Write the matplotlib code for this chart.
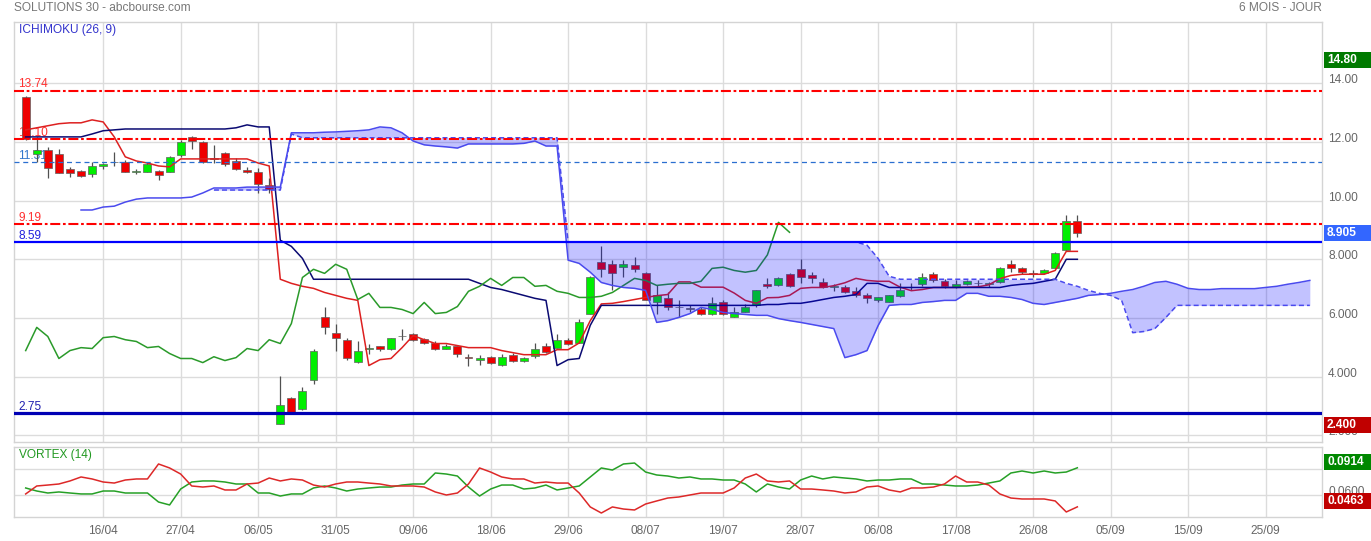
import numpy as np
import matplotlib
matplotlib.use("Agg")
import matplotlib.pyplot as plt
from matplotlib.patches import Rectangle

plt.rcParams['font.family'] = ['Liberation Sans', 'DejaVu Sans']

# ------------------------------------------------------------------ data
title_left = "SOLUTIONS 30 - abcbourse.com"
title_right = "6 MOIS - JOUR"
date_labels = ['16/04', '27/04', '06/05', '31/05', '09/06', '18/06', '29/06', '08/07',
               '19/07', '28/07', '06/08', '17/08', '26/08', '05/09', '15/09', '25/09']

open_ = [13.54, 11.59, 11.73, 11.59, 11.08, 11.01, 10.91, 11.18, 11.30, 11.32,
         10.97, 10.97, 11.01, 10.97, 11.56, 12.17, 12.00, 11.45, 11.62, 11.35,
         11.04, 10.97, 10.53, 2.40, 3.28, 2.91, 3.90, 6.02, 5.50, 5.26,
         4.51, 4.96, 5.06, 4.96, 5.37, 5.44, 5.30, 5.16, 4.96, 5.03,
         4.68, 4.58, 4.68, 4.41, 4.75, 4.55, 4.72, 5.03, 4.99, 5.26,
         5.16, 6.15, 7.90, 7.83, 7.73, 7.79, 7.52, 6.53, 6.67, 6.36,
         6.32, 6.29, 6.12, 6.56, 6.02, 6.19, 6.43, 7.15, 7.11, 7.49,
         7.66, 7.45, 7.21, 7.04, 7.04, 6.91, 6.77, 6.63, 6.56, 6.74,
         7.04, 7.15, 7.49, 7.25, 7.04, 7.15, 7.18, 7.15, 7.21, 7.83,
         7.69, 7.52, 7.52, 7.69, 8.31, 9.30]
high = [13.57, 12.17, 11.83, 11.76, 11.15, 11.04, 11.32, 11.28, 11.66, 11.38,
        11.08, 11.32, 11.04, 11.52, 12.07, 12.21, 12.03, 11.90, 11.66, 11.45,
        11.15, 11.11, 10.77, 4.03, 3.32, 3.66, 4.96, 6.39, 5.81, 5.33,
        5.20, 5.13, 5.06, 5.33, 5.64, 5.50, 5.33, 5.23, 5.13, 5.06,
        4.79, 4.75, 4.72, 4.79, 4.82, 4.68, 5.16, 5.16, 5.47, 5.33,
        5.98, 7.42, 8.44, 7.97, 7.97, 8.07, 7.56, 7.11, 6.87, 6.60,
        6.43, 6.36, 6.70, 6.60, 6.36, 6.46, 6.97, 7.35, 7.38, 7.52,
        8.00, 7.56, 7.35, 7.15, 7.11, 7.04, 6.84, 6.70, 6.80, 7.18,
        7.18, 7.52, 7.56, 7.32, 7.28, 7.28, 7.28, 7.21, 7.73, 7.97,
        7.73, 7.62, 7.66, 8.24, 9.50, 9.50]
low = [12.07, 11.32, 10.77, 10.94, 10.80, 10.80, 10.80, 11.08, 11.18, 10.97,
       10.91, 10.97, 10.70, 10.97, 11.49, 11.76, 11.28, 11.28, 11.18, 11.04,
       10.94, 10.26, 10.26, 2.40, 2.77, 2.87, 3.76, 5.47, 4.89, 4.58,
       4.48, 4.79, 4.89, 4.92, 5.26, 5.23, 5.13, 4.92, 4.96, 4.68,
       4.38, 4.41, 4.44, 4.38, 4.51, 4.51, 4.65, 4.82, 4.99, 5.09,
       5.16, 6.15, 7.38, 6.94, 7.38, 7.56, 6.60, 6.15, 6.26, 6.02,
       6.19, 6.09, 6.09, 6.09, 6.02, 6.19, 6.39, 7.01, 7.08, 7.04,
       7.18, 7.18, 7.01, 6.91, 6.84, 6.70, 6.50, 6.53, 6.56, 6.70,
       6.94, 7.08, 7.21, 7.01, 7.01, 7.11, 7.04, 7.04, 7.18, 7.56,
       7.49, 7.38, 7.49, 7.66, 8.27, 8.75]
close = [12.10, 11.73, 11.11, 10.94, 10.94, 10.84, 11.18, 11.25, 11.32, 10.97,
         11.01, 11.25, 10.87, 11.49, 12.00, 12.03, 11.32, 11.42, 11.25, 11.08,
         10.97, 10.56, 10.39, 3.04, 2.77, 3.52, 4.89, 5.68, 5.33, 4.62,
         4.89, 4.99, 4.96, 5.33, 5.37, 5.26, 5.16, 4.96, 5.03, 4.79,
         4.62, 4.62, 4.48, 4.68, 4.55, 4.65, 4.96, 4.85, 5.26, 5.13,
         5.85, 7.38, 7.66, 7.52, 7.83, 7.66, 6.63, 6.80, 6.36, 6.39,
         6.32, 6.15, 6.50, 6.15, 6.19, 6.39, 6.94, 7.08, 7.35, 7.08,
         7.38, 7.35, 7.04, 7.08, 6.87, 6.80, 6.67, 6.70, 6.77, 6.94,
         7.04, 7.38, 7.28, 7.08, 7.15, 7.25, 7.18, 7.18, 7.69, 7.69,
         7.56, 7.49, 7.62, 8.21, 9.30, 8.905]

tenkan = [12.41, 12.48, 12.55, 12.62, 12.65, 12.65, 12.75, 12.68, 12.17, 11.49,
          11.35, 11.28, 11.18, 11.15, 11.42, 11.42, 11.42, 11.42, 11.42, 11.42,
          11.42, 11.28, 11.18, 7.32, 7.18, 7.08, 7.01, 6.87, 6.77, 6.67,
          6.60, 4.38, 4.58, 4.62, 4.99, 5.40, 5.26, 5.13, 5.13, 5.06,
          4.99, 4.99, 4.99, 4.89, 4.82, 4.75, 4.75, 4.75, 4.92, 4.92,
          5.15, 5.91, 6.48, 6.50, 6.56, 6.63, 6.70, 6.76, 6.80, 7.23,
          7.23, 7.05, 7.05, 7.05, 6.85, 6.60, 6.50, 6.69, 6.70, 6.77,
          7.01, 7.04, 7.04, 7.10, 7.20, 7.35, 7.28, 7.25, 7.25, 7.05,
          6.93, 6.97, 7.04, 7.04, 7.04, 7.05, 7.06, 7.13, 7.34, 7.45,
          7.49, 7.49, 7.49, 7.62, 8.27, 8.27]
kijun = [12.17, 12.17, 12.17, 12.17, 12.17, 12.17, 12.27, 12.38, 12.41, 12.44,
         12.44, 12.44, 12.44, 12.44, 12.44, 12.44, 12.44, 12.44, 12.44, 12.48,
         12.58, 12.51, 12.51, 8.65, 8.44, 8.03, 7.32, 7.32, 7.32, 7.32,
         7.32, 7.32, 7.32, 7.32, 7.32, 7.32, 7.32, 7.32, 7.32, 7.32,
         7.32, 7.18, 7.04, 6.97, 6.87, 6.77, 6.67, 6.60, 4.38, 4.58,
         4.62, 5.75, 6.43, 6.43, 6.43, 6.43, 6.43, 6.43, 6.43, 6.43,
         6.43, 6.43, 6.43, 6.43, 6.43, 6.43, 6.43, 6.46, 6.46, 6.50,
         6.50, 6.56, 6.63, 6.70, 6.74, 6.80, 7.18, 7.18, 7.04, 7.04,
         7.04, 7.04, 7.04, 7.04, 7.04, 7.04, 7.04, 7.04, 7.04, 7.11,
         7.15, 7.18, 7.25, 7.32, 8.00, 8.00]
# lagging span (chikou), drawn 26 sessions back
chikou = [4.89, 5.68, 5.37, 4.62, 4.89, 4.99, 4.96, 5.33, 5.37, 5.26,
          5.20, 4.99, 5.03, 4.79, 4.62, 4.62, 4.48, 4.68, 4.55, 4.65,
          4.96, 4.89, 5.26, 5.13, 5.81, 7.38, 7.66, 7.52, 7.83, 7.66,
          6.63, 6.84, 6.36, 6.36, 6.29, 6.15, 6.53, 6.15, 6.19, 6.39,
          6.91, 7.08, 7.35, 7.11, 7.38, 7.38, 7.08, 7.11, 6.91, 6.84,
          6.70, 6.70, 6.74, 6.87, 7.11, 7.35, 7.28, 7.11, 7.15, 7.18,
          7.18, 7.25, 7.69, 7.73, 7.62, 7.56, 7.62, 8.15, 9.26, 8.92]
# senkou span A : sessions 5 .. 116
senkou_a_start = 5
senkou_a = [9.68, 9.68, 9.78, 9.81, 9.95, 10.05, 10.09, 10.09, 10.09, 10.09,
            10.12, 10.26, 10.43, 10.43, 10.43, 10.46, 10.46, 10.46, 10.46, 12.31,
            12.31, 12.31, 12.33, 12.34, 12.36, 12.38, 12.41, 12.51, 12.48, 12.31,
            12.03, 11.90, 11.86, 11.83, 11.79, 11.93, 11.93, 11.93, 11.93, 11.93,
            11.95, 12.03, 11.86, 11.86, 7.97, 7.86, 7.56, 7.21, 7.11, 7.04,
            7.01, 6.94, 5.85, 5.91, 6.02, 6.15, 6.36, 6.29, 6.19, 6.15,
            6.12, 6.09, 6.09, 5.98, 5.91, 5.85, 5.78, 5.71, 5.64, 4.65,
            4.75, 4.89, 5.74, 6.43, 6.46, 6.46, 6.53, 6.56, 6.60, 6.60,
            6.84, 6.84, 6.74, 6.74, 6.70, 6.63, 6.50, 6.46, 6.53, 6.60,
            6.67, 6.77, 6.80, 6.84, 6.91, 6.97, 7.08, 7.21, 7.25, 7.15,
            7.01, 6.97, 6.97, 7.00, 7.00, 7.00, 7.00, 7.04, 7.08, 7.15,
            7.21, 7.28]
# senkou span B : sessions 17 .. 116
senkou_b_start = 17
senkou_b = [10.36, 10.36, 10.36, 10.36, 10.36, 10.36, 10.36, 12.27, 12.14, 12.14,
            12.14, 12.14, 12.14, 12.14, 12.14, 12.14, 12.14, 12.14, 12.14, 12.14,
            12.14, 12.14, 12.14, 12.14, 12.14, 12.14, 12.14, 12.14, 12.14, 12.14,
            12.14, 12.14, 8.59, 8.59, 8.59, 8.59, 8.59, 8.59, 8.59, 8.59,
            8.59, 8.59, 8.59, 8.59, 8.59, 8.59, 8.59, 8.59, 8.59, 8.59,
            8.59, 8.59, 8.59, 8.59, 8.59, 8.59, 8.59, 8.59, 8.59, 8.48,
            8.03, 7.42, 7.32, 7.32, 7.32, 7.32, 7.32, 7.32, 7.32, 7.32,
            7.32, 7.32, 7.32, 7.32, 7.32, 7.32, 7.32, 7.18, 7.08, 6.94,
            6.84, 6.77, 6.60, 5.50, 5.54, 5.64, 6.02, 6.43, 6.43, 6.43,
            6.43, 6.43, 6.43, 6.43, 6.43, 6.43, 6.43, 6.43, 6.43, 6.43]

levels_red = [13.74, 12.10, 9.19]
level_dashed_blue = 11.31
level_blue = 8.59
level_navy = 2.75
period_high = 14.80

vi_plus = [.0681, .0646, .0623, .0635, .0623, .0612, .0612, .0646, .0646, .0623,
           .0623, .0623, .0519, .0485, .0669, .0750, .0762, .0762, .0750, .0727,
           .0727, .0623, .0623, .0588, .0612, .0612, .0681, .0704, .0681, .0646,
           .0669, .0681, .0692, .0692, .0715, .0727, .0727, .0854, .0842, .0819,
           .0692, .0588, .0669, .0715, .0715, .0669, .0681, .0715, .0658, .0681,
           .0704, .0808, .0912, .0888, .0958, .0969, .0865, .0831, .0819, .0796,
           .0808, .0785, .0785, .0773, .0773, .0727, .0635, .0727, .0692, .0669,
           .0773, .0819, .0785, .0808, .0796, .0785, .0762, .0773, .0773, .0785,
           .0785, .0727, .0727, .0715, .0704, .0704, .0715, .0738, .0762, .0854,
           .0877, .0854, .0877, .0854, .0865, .0914]
vi_minus = [.0612, .0704, .0715, .0727, .0762, .0808, .0785, .0750, .0738, .0773,
            .0785, .0785, .0958, .0912, .0842, .0704, .0692, .0704, .0658, .0658,
            .0727, .0738, .0796, .0762, .0785, .0773, .0715, .0692, .0727, .0750,
            .0750, .0738, .0727, .0704, .0704, .0704, .0692, .0635, .0600, .0623,
            .0727, .0912, .0865, .0808, .0785, .0785, .0738, .0750, .0738, .0738,
            .0623, .0462, .0392, .0462, .0438, .0427, .0496, .0531, .0565, .0577,
            .0600, .0623, .0623, .0623, .0681, .0796, .0842, .0762, .0750, .0762,
            .0669, .0669, .0658, .0646, .0623, .0635, .0692, .0704, .0658, .0635,
            .0681, .0681, .0692, .0727, .0819, .0750, .0750, .0715, .0612, .0565,
            .0554, .0554, .0554, .0531, .0404, .0463]

# ------------------------------------------------------------------ figure
W, H = 1371, 541
fig = plt.figure(figsize=(W / 100, H / 100), dpi=100)
fig.patch.set_facecolor('white')


def box(l, t, r, b):
    return [l / W, 1 - b / H, (r - l) / W, (b - t) / H]


ax = fig.add_axes(box(14.5, 22, 1322, 442))
axv = fig.add_axes(box(14.5, 447, 1322, 517))

o = np.array(open_); h = np.array(high); l = np.array(low); c = np.array(close)
n = len(c)
idx = np.arange(n)
XLIM = (-1.01, 117.1)

GRID = '#dcdcdc'
SPINE = '#d4d4d4'
TXT = '#666666'

for a in (ax, axv):
    a.set_xlim(*XLIM)
    a.set_xticks(np.arange(7, 113, 7))
    a.grid(True, color=GRID, lw=1)
    a.set_axisbelow(True)
    for s in a.spines.values():
        s.set_color(SPINE)
        s.set_linewidth(1)
    a.yaxis.tick_right()
    a.tick_params(length=0)

ax.set_ylim(1.775, 16.085)
ax.tick_params(axis='x', labelbottom=False)
ax.set_yticks([2, 4, 6, 8, 10, 12, 14])
ax.set_yticklabels(['2.000', '4.000', '6.000', '8.000', '10.00', '12.00', '14.00'])
ax.tick_params(axis='y', pad=4.5, labelsize=8.6, labelcolor=TXT)
for t in ax.get_yticklabels():
    t.set_va('baseline')

axv.set_ylim(0.0346, 0.1154)
axv.set_yticks([0.06, 0.09])
axv.set_yticklabels(['0.0600', '0.0900'])
axv.tick_params(axis='y', pad=4.5, labelsize=8.6, labelcolor=TXT)
for t in axv.get_yticklabels():
    t.set_va('baseline')
axv.set_xticklabels(date_labels)
axv.tick_params(axis='x', pad=6, labelsize=8.6, labelcolor=TXT)

# ---- horizontal level labels (behind the candles, as in the original)
def level_label(v, col):
    ax.annotate(f"{v:.2f}", xy=(0, v), xycoords=('axes fraction', 'data'),
                xytext=(2.6, 2.4), textcoords='offset points', color=col,
                fontsize=8.6, va='baseline', ha='left', zorder=1.5)

for lv in levels_red:
    level_label(lv, '#ff3030')
level_label(level_dashed_blue, '#3377cc')
level_label(level_blue, '#2020dd')
level_label(level_navy, '#2020b0')

# ---- candles
UP, DOWN, DOJI = '#00ee00', '#ee0000', '#555555'
body_lo = np.minimum(o, c)
body_h = np.abs(c - o)
cols = np.where(c > o, UP, DOWN).astype(object)
cols[body_h < 1e-9] = DOJI
ax.vlines(idx, l, h, color='#505050', lw=0.9, zorder=2)
ax.bar(idx, np.maximum(body_h, 0.025), bottom=body_lo, width=0.72,
       color=list(cols), edgecolor='#606060', linewidth=0.5, zorder=3)

# ---- ichimoku lines
ax.plot(idx, tenkan, color='#dd2020', lw=1.1, zorder=4)
ax.plot(idx, kijun, color='#0a0a72', lw=1.1, zorder=4)
ax.plot(np.arange(len(chikou)), chikou, color='#2a9a2a', lw=1.1, zorder=4)

sa = np.array(senkou_a); sb = np.array(senkou_b)
xa = np.arange(senkou_a_start, senkou_a_start + len(sa))
xb = np.arange(senkou_b_start, senkou_b_start + len(sb))
a_common = sa[senkou_b_start - senkou_a_start:]
ax.fill_between(xb, a_common, sb, color='#0000ff', alpha=0.24, lw=0, zorder=5)
ax.plot(xa, sa, color='#4a4aee', lw=1.1, zorder=6)
ax.plot(xb, sb, color='#4a4aee', lw=1.1, ls=(0, (3.3, 2)), zorder=6)

# ---- horizontal levels
for lv in levels_red:
    ax.axhline(lv, color='#ff0000', lw=1.5, dashes=(4.8, 1.3, 1.3, 1.3), zorder=7)
ax.axhline(level_dashed_blue, color='#2a6fd0', lw=0.9, dashes=(4, 3), zorder=7)
ax.axhline(level_blue, color='#0000ff', lw=1.6, zorder=7)
ax.axhline(level_navy, color='#0000b4', lw=2.3, zorder=7)

# ---- vortex
vx = np.arange(len(vi_plus))
axv.plot(vx, vi_plus, color='#26a026', lw=1.1, zorder=4)
axv.plot(vx, vi_minus, color='#dd2828', lw=1.1, zorder=4)

# ---- panel titles
fig.text(14 / W, 1 - 8 / H, title_left, color='#777777', fontsize=8.6, va='center', ha='left')
fig.text(1322 / W, 1 - 8 / H, title_right, color='#777777', fontsize=8.6, va='center', ha='right')
ax.text(4.5 / 1307.5, 1 - 8 / 420, "ICHIMOKU (26, 9)", transform=ax.transAxes,
        color='#3333cc', fontsize=8.6, va='center', ha='left', zorder=9)
axv.text(4.5 / 1307.5, 1 - 8 / 70, "VORTEX (14)", transform=axv.transAxes,
         color='#229922', fontsize=8.6, va='center', ha='left', zorder=9)

# ---- value boxes on the right scale
def value_box(axis, value, text, color, dy=0.0):
    ypix = axis.transData.transform((0, value))[1] + dy
    hb = 16
    fig.patches.append(Rectangle((1324 / W, (ypix - hb / 2) / H), (W - 1324) / W, hb / H,
                                 transform=fig.transFigure, facecolor=color,
                                 edgecolor='none', zorder=5))
    fig.text(1327 / W, ypix / H, text, color='white', fontweight='bold', fontsize=8.6,
             va='center', ha='left', zorder=6)

value_box(ax, period_high, f"{period_high:.2f}", '#007a00')
value_box(ax, c[-1], f"{c[-1]:.3f}", '#3366ff')
value_box(ax, l.min(), f"{l.min():.3f}", '#c00000', dy=-1.5)
value_box(axv, vi_plus[-1], f"{vi_plus[-1]:.4f}", '#008800', dy=6)
value_box(axv, vi_minus[-1], f"{vi_minus[-1]:.4f}", '#c00000', dy=6)

fig.savefig('out.png', dpi=100, facecolor='white')
